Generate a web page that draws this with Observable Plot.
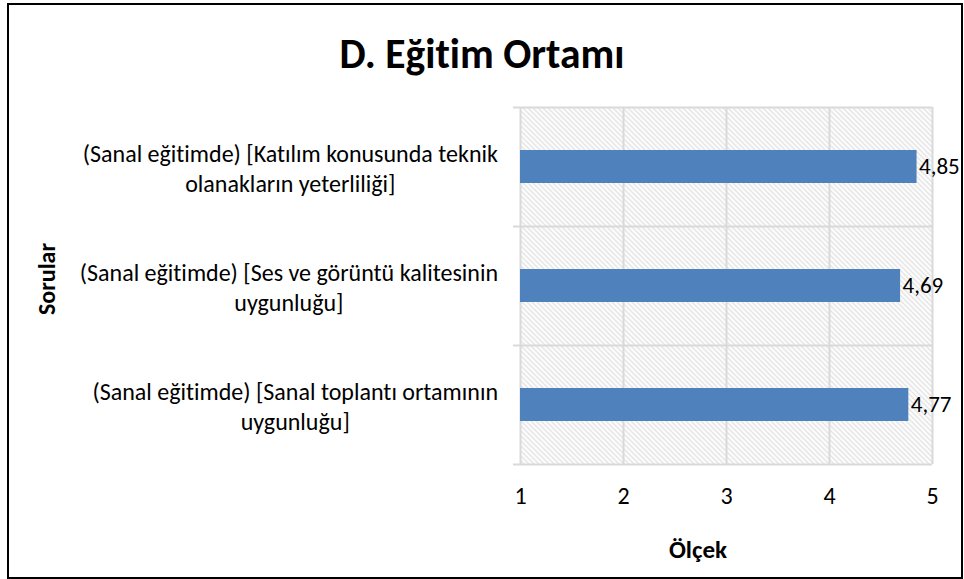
<!DOCTYPE html>
<html>
<head>
<meta charset="utf-8">
<script src="https://cdn.jsdelivr.net/npm/d3@7"></script>
<script src="https://cdn.jsdelivr.net/npm/@observablehq/plot@0.6"></script>
<style>
  html, body { margin: 0; padding: 0; background: #fff; }
  #chart { width: 964px; height: 579px; }
  svg text { font-variant-ligatures: none; }
</style>
</head>
<body>
<div id="chart"></div>
<script>
const title = "D. Eğitim Ortamı";
const xLabel = "Ölçek";
const yLabel = "Sorular";
const categories = [
  "(Sanal eğitimde) [Katılım konusunda teknik\nolanakların yeterliliği]",
  "(Sanal eğitimde) [Ses ve görüntü kalitesinin\nuygunluğu]",
  "(Sanal eğitimde) [Sanal toplantı ortamının\nuygunluğu]"
];
const values = [4.85, 4.69, 4.77];
const xTicks = [1, 2, 3, 4, 5];

const data = categories.map((c, i) => ({category: c, value: values[i]}));

const W = 964, H = 579;
const mt = 107, mb = 115, ml = 520, mr = 32;
const pInner = 0.72, pOuter = 0.36;
const step = (H - mt - mb) / (categories.length - pInner + 2 * pOuter);
const font = "Carlito, Calibri, Lato, 'Open Sans', sans-serif";
const grid = "#d9d9d9";

const plot = Plot.plot({
  width: W, height: H,
  marginTop: mt, marginBottom: mb, marginLeft: ml, marginRight: mr,
  style: {fontFamily: font, fontSize: "24px", color: "#000", background: "transparent"},
  x: {domain: [xTicks[0], xTicks[xTicks.length - 1]]},
  y: {domain: categories, paddingInner: pInner, paddingOuter: pOuter, axis: null},
  marks: [
    Plot.frame({fill: "url(#hatch)", stroke: "none"}),
    Plot.ruleX(xTicks, {stroke: grid, strokeWidth: 2}),
    Plot.ruleY(categories, {y: d => d, dy: -step / 2, stroke: grid, strokeWidth: 2, insetLeft: -7}),
    Plot.ruleY(categories.slice(-1), {y: d => d, dy: step / 2, stroke: grid, strokeWidth: 2, insetLeft: -7}),
    Plot.barX(data, {y: "category", x1: () => xTicks[0], x2: "value", fill: "#4f81bd"}),
    Plot.text(data, {y: "category", x: "value", text: d => d.value.toFixed(2).replace(".", ","),
      textAnchor: "start", dx: 2, fontSize: 23, fill: "#000"}),
    Plot.text(data, {y: "category", text: "category", frameAnchor: "left", dx: -240,
      textAnchor: "middle", lineHeight: 1.25, fontSize: 24, fill: "#000", className: "ylabels"}),
    Plot.axisX(xTicks, {tickSize: 0, tickPadding: 22, tickFormat: d => String(d), fontSize: 24, label: null, fill: "#000"})
  ]
});

const svg = d3.select(plot);
svg.style("overflow", "visible");
const defs = svg.insert("defs", ":first-child");
const pat = defs.append("pattern").attr("id", "hatch").attr("patternUnits", "userSpaceOnUse")
  .attr("width", 5).attr("height", 5);
pat.append("rect").attr("width", 5).attr("height", 5).attr("fill", "#fff");
pat.append("path").attr("d", "M-1,-1 L6,6 M-1,4 L1,6 M4,-1 L6,1")
  .attr("stroke", "#d8d8d8").attr("stroke-width", 1.1);

// border
svg.append("rect").attr("x", 8).attr("y", 4).attr("width", 954).attr("height", 574)
  .attr("fill", "none").attr("stroke", "#000").attr("stroke-width", 2);

svg.append("text").attr("x", 482).attr("y", 68).attr("text-anchor", "middle")
  .attr("font-family", font).attr("font-weight", "bold").attr("font-size", 41.5).attr("fill", "#000")
  .text(title);
svg.append("text").attr("x", 698).attr("y", 558).attr("text-anchor", "middle")
  .attr("font-family", font).attr("font-weight", "bold").attr("font-size", 25).attr("fill", "#000")
  .text(xLabel);
svg.append("text").attr("transform", "translate(55,279) rotate(-90)").attr("text-anchor", "middle")
  .attr("font-family", font).attr("font-weight", "bold").attr("font-size", 24).attr("fill", "#000")
  .text(yLabel);

document.getElementById("chart").appendChild(plot);

// right-align each wrapped label block (lines centred within block) to x = 498
const rightEdge = 498;
const svgLeft = plot.getBoundingClientRect().left;
const labelNodes = new Set();
plot.querySelectorAll('.ylabels text, text.ylabels').forEach(n => labelNodes.add(n));
labelNodes.forEach(node => {
  const r = node.getBoundingClientRect();
  const shift = rightEdge - (r.right - svgLeft);
  const tr = node.getAttribute("transform") || "";
  node.setAttribute("transform", `translate(${shift},0) ` + tr);
});
</script>
</body>
</html>
